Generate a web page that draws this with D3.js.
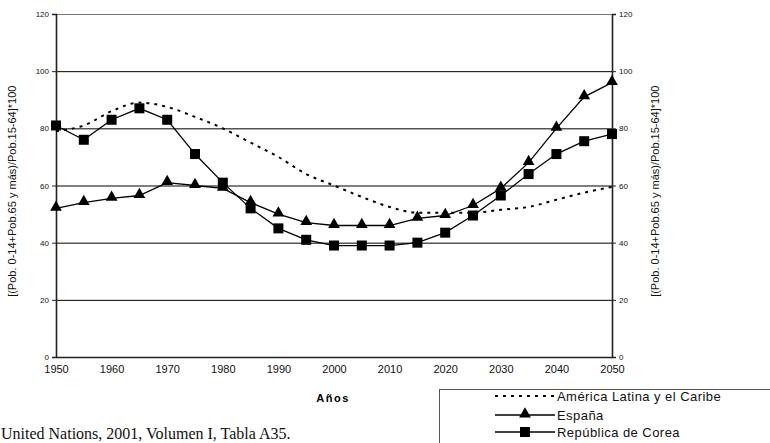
<!DOCTYPE html>
<html>
<head>
<meta charset="utf-8">
<script src="https://cdn.jsdelivr.net/npm/d3@7"></script>
<style>
  body { margin: 0; background: #fff; }
  svg { display: block; }
</style>
</head>
<body>
<div class="chart"></div>
<script>
const years = [1950, 1955, 1960, 1965, 1970, 1975, 1980, 1985, 1990, 1995, 2000,
  2005, 2010, 2015, 2020, 2025, 2030, 2035, 2040, 2045, 2050];
const latam = [79, 81, 86, 89, 87.5, 84, 80, 75, 70, 64, 60, 56, 52.5, 50.5, 50.5, 50.5, 51.5, 52.5, 55, 57.5, 59.5];
const espana = [52, 54, 55.5, 56.5, 61, 60, 59, 54, 50, 47, 46, 46, 46, 48.5, 49.5, 53, 59, 68, 80, 91, 96];
const corea = [81, 76, 83, 87, 83, 71, 61, 52, 45, 41, 39, 39, 39, 40, 43.5, 49.5, 56.5, 64, 71, 75.5, 78];
const yTicks = [0, 20, 40, 60, 80, 100, 120];
const xTicks = [1950, 1960, 1970, 1980, 1990, 2000, 2010, 2020, 2030, 2040, 2050];
const seriesNames = ["América Latina y el Caribe", "España", "República de Corea"];

const width = 770, height = 443;
const margin = {top: 14, right: 158, bottom: 86, left: 56};

const svg = d3.select(".chart")
  .append("svg")
    .attr("width", width)
    .attr("height", height);

const x = d3.scaleLinear().domain([1950, 2050]).range([margin.left, width - margin.right]);
const y = d3.scaleLinear().domain([0, 120]).range([height - margin.bottom, margin.top]);

// gridlines
svg.append("g")
  .selectAll("line")
  .data(yTicks.filter(d => d > 0 && d < 120))
  .enter()
  .append("line")
    .attr("x1", x(1950))
    .attr("x2", x(2050))
    .attr("y1", d => y(d) + 0.5)
    .attr("y2", d => y(d) + 0.5)
    .style("stroke", "#000")
    .style("stroke-width", 1);

// frame
svg.append("line")
  .attr("x1", x(1950)).attr("x2", x(2050))
  .attr("y1", y(120) + 0.5).attr("y2", y(120) + 0.5)
  .style("stroke", "#777").style("stroke-width", 1);

const leftAxis = svg.append("g")
  .attr("transform", `translate(${x(1950)},0)`)
  .call(d3.axisLeft(y).tickValues(yTicks).tickSize(4).tickPadding(3));
const rightAxis = svg.append("g")
  .attr("transform", `translate(${x(2050)},0)`)
  .call(d3.axisRight(y).tickValues(yTicks).tickSize(4).tickPadding(3));
const bottomAxis = svg.append("g")
  .attr("transform", `translate(0,${y(0)})`)
  .call(d3.axisBottom(x).tickValues(xTicks).tickFormat(d3.format("d")).tickSize(0).tickPadding(8));

[leftAxis, rightAxis, bottomAxis].forEach(g => {
  g.select(".domain").style("stroke", "#222").style("stroke-width", 1.6);
  g.selectAll(".tick line").style("stroke", "#222");
  g.selectAll("text").style("font-family", "'Liberation Sans', Arial, sans-serif").attr("fill", "#111");
});
leftAxis.selectAll("text").style("font-size", "8px");
rightAxis.selectAll("text").style("font-size", "8px");
bottomAxis.selectAll("text").style("font-size", "11px");
bottomAxis.selectAll(".tick line").remove();

// axis titles
const yTitle = "[(Pob. 0-14+Pob.65 y más)/Pob.15-64]*100";
[16, 659].forEach(tx => {
  svg.append("text")
    .attr("transform", `translate(${tx},${y(58)}) rotate(-90)`)
    .attr("text-anchor", "middle")
    .style("font-family", "'Liberation Sans', Arial, sans-serif")
    .style("font-size", "11px")
    .attr("fill", "#111")
    .text(yTitle);
});
svg.append("text")
  .attr("x", 333)
  .attr("y", 402)
  .attr("text-anchor", "middle")
  .style("font-family", "'Liberation Sans', Arial, sans-serif")
  .style("font-size", "11px")
  .style("font-weight", "bold")
  .style("letter-spacing", "1.5px")
  .text("Años");

// lines
const line = d3.line()
  .x((d, i) => x(years[i]))
  .y(d => y(d));

svg.append("path")
  .datum(latam)
  .attr("d", line.curve(d3.curveMonotoneX))
  .style("fill", "none")
  .style("stroke", "#000")
  .style("stroke-width", 2)
  .style("stroke-dasharray", "3,5");

line.curve(d3.curveLinear);
[espana, corea].forEach(s => {
  svg.append("path")
    .datum(s)
    .attr("d", line)
    .style("fill", "none")
    .style("stroke", "#000")
    .style("stroke-width", 1.3);
});

const tri = d3.symbol().type(d3.symbolTriangle).size(60);
svg.append("g")
  .selectAll("path")
  .data(espana)
  .enter()
  .append("path")
    .attr("d", tri)
    .attr("transform", (d, i) => `translate(${x(years[i])},${y(d) - 1})`)
    .style("fill", "#000");

svg.append("g")
  .selectAll("rect")
  .data(corea)
  .enter()
  .append("rect")
    .attr("x", (d, i) => x(years[i]) - 5)
    .attr("y", d => y(d) - 5)
    .attr("width", 10)
    .attr("height", 10)
    .style("fill", "#000");

// legend
const legend = svg.append("g");
legend.append("rect")
  .attr("x", 439.5).attr("y", 389.5)
  .attr("width", 340).attr("height", 70)
  .style("fill", "#fff").style("stroke", "#555");

const rowY = [396, 415, 432];
seriesNames.forEach((name, i) => {
  const lg = legend.append("line")
    .attr("x1", 495).attr("x2", 555)
    .attr("y1", rowY[i]).attr("y2", rowY[i])
    .style("stroke", "#000");
  if (i === 0) {
    lg.style("stroke-width", 2).style("stroke-dasharray", "3,5");
  } else {
    lg.style("stroke-width", 1.3);
  }
  if (i === 1) {
    legend.append("path").attr("d", tri)
      .attr("transform", `translate(525,${rowY[i] - 1})`).style("fill", "#000");
  }
  if (i === 2) {
    legend.append("rect").attr("x", 520).attr("y", rowY[i] - 5)
      .attr("width", 10).attr("height", 10).style("fill", "#000");
  }
  legend.append("text")
    .attr("x", 557)
    .attr("y", rowY[i] + 4.5)
    .style("font-family", "'Liberation Sans', Arial, sans-serif")
    .style("font-size", "13px")
    .style("letter-spacing", "0.45px")
    .attr("fill", "#111")
    .text(name);
});

// source note
svg.append("text")
  .attr("x", 1)
  .attr("y", 439)
  .style("font-family", "'Liberation Serif', 'Times New Roman', serif")
  .style("font-size", "16px")
  .attr("fill", "#111")
  .text("United Nations, 2001, Volumen I, Tabla A35.");
</script>
</body>
</html>
